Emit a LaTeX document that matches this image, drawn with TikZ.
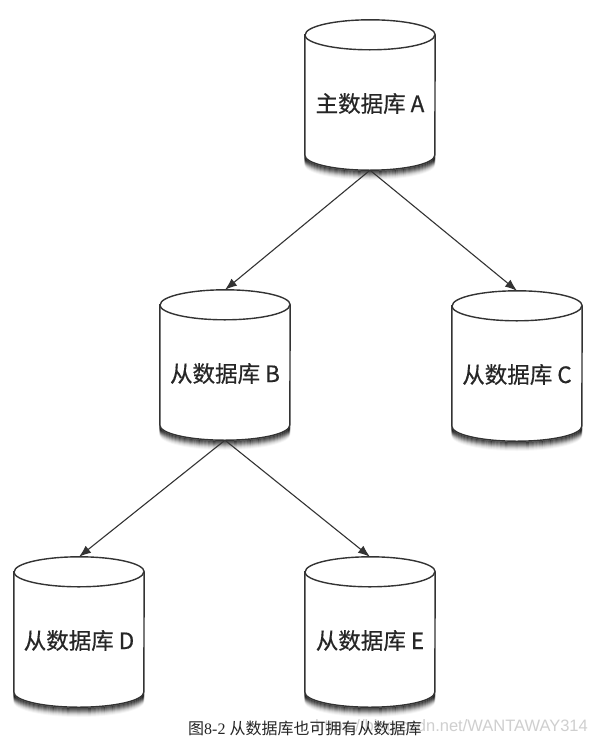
\documentclass[tikz,border=0pt]{standalone}
\usepackage{fontspec}
\setmainfont{Liberation Serif}
\newfontfamily\cjk{Noto Sans CJK SC}
\newfontfamily\cjkb[FakeBold=0.5]{Noto Sans CJK SC}
\newfontfamily\wmfont{Liberation Sans}
\usetikzlibrary{calc,arrows.meta,backgrounds}
\definecolor{ink}{HTML}{333333}
\definecolor{wmgray}{HTML}{CFCFCF}
\tikzset{
  db/.style={minimum width=130pt, minimum height=150pt, inner sep=0pt,
    text height=38pt, text depth=4pt, font=\cjkb\fontsize{22.5}{22.5}\selectfont, text=black!85},
  dbline/.style={draw=ink, line width=1.4pt},
  conn/.style={draw=ink, line width=1.1pt, -{Latex[length=12pt,width=9pt]}},
  capstyle/.style={inner sep=0pt, font=\fontsize{16}{16}\selectfont, text=black!85},
  wmstyle/.style={inner sep=0pt, font=\wmfont\fontsize{16.5}{16.5}\selectfont, text=wmgray}
}
\newcommand\dbcyl[1]{%
  \foreach \k/\o in {1/.55,2/.48,3/.4,4/.32,5/.24,6/.16,7/.1,8/.06,9/.03}{%
    \draw[black, line width=1.6pt, opacity=\o]
      ($(#1.south west)+(0,15-\k)$) arc[start angle=180,end angle=360,x radius=65,y radius=15];
  }
  \draw[dbline, fill=white] ($(#1.north west)+(0,-15)$) -- ($(#1.south west)+(0,15)$)
    arc[start angle=180,end angle=360,x radius=65,y radius=15]
    -- ($(#1.north east)+(0,-15)$)
    arc[start angle=0,end angle=180,x radius=65,y radius=15] -- cycle;
  \draw[dbline] ($(#1.north west)+(0,-15)$)
    arc[start angle=180,end angle=360,x radius=65,y radius=15];
}
\begin{document}
\begin{tikzpicture}[x=1pt,y=1pt]
  \useasboundingbox (0,0) rectangle (595,-750);
  \node[db] (A) at (370,-95) {主数据库 A};
  \node[db] (B) at (225,-365) {从数据库 B};
  \node[db] (C) at (517,-366) {从数据库 C};
  \node[db] (D) at (79,-632) {从数据库 D};
  \node[db] (E) at (370,-632) {从数据库 E};
  \begin{scope}[on background layer]
    \fill[white] (0,0) rectangle (595,-750);
    \dbcyl{A}\dbcyl{B}\dbcyl{C}\dbcyl{D}\dbcyl{E}
  \end{scope}
  \draw[conn] (A.south) -- (B.north);
  \draw[conn] (A.south) -- (C.north);
  \draw[conn] (B.south) -- (D.north);
  \draw[conn] (B.south) -- (E.north);
  \node[wmstyle, anchor=east] (wm) at (588,-727) {https://blog.csdn.net/WANTAWAY314};
  \node[capstyle, anchor=west] (cap) at (188,-728) {{\cjk 图}8-2 {\cjk 从数据库也可拥有从数据库}};
\end{tikzpicture}
\end{document}
